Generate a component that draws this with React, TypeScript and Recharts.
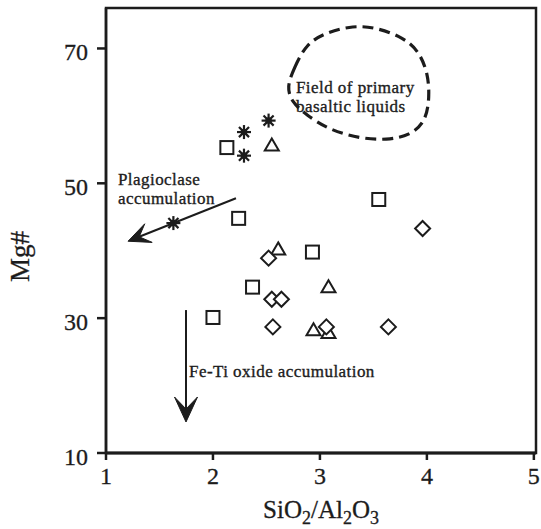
import React from 'react';
import {
  ComposedChart,
  Scatter,
  Line,
  XAxis,
  YAxis,
  ReferenceArea,
  ReferenceLine,
  ReferenceDot,
} from 'recharts';

// ---------- data ----------
const xTicks = [1, 2, 3, 4, 5];
const yTicks = [10, 30, 50, 70];

const asterisks = [
  { x: 1.63, y: 44.1 },
  { x: 2.29, y: 57.6 },
  { x: 2.29, y: 54.1 },
  { x: 2.52, y: 59.3 },
];

const squares = [
  { x: 2.13, y: 55.3 },
  { x: 2.24, y: 44.8 },
  { x: 2.37, y: 34.6 },
  { x: 2.0, y: 30.1 },
  { x: 3.55, y: 47.6 },
  { x: 2.93, y: 39.8 },
];

const triangles = [
  { x: 2.55, y: 55.6 },
  { x: 2.61, y: 40.2 },
  { x: 3.08, y: 34.6 },
  { x: 2.94, y: 28.2 },
  { x: 3.08, y: 27.8 },
];

const diamonds = [
  { x: 3.96, y: 43.3 },
  { x: 2.52, y: 38.9 },
  { x: 2.55, y: 32.8 },
  { x: 2.64, y: 32.8 },
  { x: 2.56, y: 28.7 },
  { x: 3.06, y: 28.7 },
  { x: 3.64, y: 28.7 },
];

// outline of the "Field of primary basaltic liquids"
const primaryField = [
  { x: 2.69, y: 64.27 },
  { x: 2.756, y: 67.0 },
  { x: 2.87, y: 70.7 },
  { x: 3.063, y: 72.4 },
  { x: 3.311, y: 73.4 },
  { x: 3.53, y: 73.1 },
  { x: 3.785, y: 71.6 },
  { x: 3.93, y: 69.5 },
  { x: 4.01, y: 66.25 },
  { x: 4.025, y: 62.79 },
  { x: 3.99, y: 59.2 },
  { x: 3.845, y: 57.1 },
  { x: 3.623, y: 56.4 },
  { x: 3.374, y: 56.65 },
  { x: 3.09, y: 57.9 },
  { x: 2.866, y: 60.2 },
  { x: 2.735, y: 62.11 },
];

const plagioArrow = [
  { x: 2.215, y: 47.78 },
  { x: 1.206, y: 41.41 },
];
const feTiArrow = [
  { x: 1.748, y: 31.2 },
  { x: 1.748, y: 14.6 },
];

const plagioLabel = { x: 1.112, y: 49.7, lines: ['Plagioclase', 'accumulation'] };
const fieldLabel = { x: 2.776, y: 63.35, lines: ['Field of primary', 'basaltic liquids'] };
const feTiLabel = { x: 1.776, y: 21.26, lines: ['Fe-Ti oxide accumulation'] };

// ---------- styles ----------
const INK = '#1c1c1c';
const FONT = '"Liberation Serif", "Times New Roman", serif';

// ---------- shapes ----------
const SquareShape = (p: any) => (
  <rect x={p.cx - 6.5} y={p.cy - 6.5} width={13} height={13} fill="#fff" stroke={INK} strokeWidth={2} />
);
const TriangleShape = (p: any) => (
  <path
    d={`M${p.cx},${p.cy - 7} L${p.cx + 7},${p.cy + 5} L${p.cx - 7},${p.cy + 5} Z`}
    fill="#fff"
    stroke={INK}
    strokeWidth={2}
    strokeLinejoin="miter"
  />
);
const DiamondShape = (p: any) => (
  <path
    d={`M${p.cx},${p.cy - 7.5} L${p.cx + 7.5},${p.cy} L${p.cx},${p.cy + 7.5} L${p.cx - 7.5},${p.cy} Z`}
    fill="#fff"
    stroke={INK}
    strokeWidth={2}
  />
);
const AsteriskShape = (p: any) => {
  const r = 7;
  const d = r * 0.72;
  const { cx, cy } = p;
  return (
    <g stroke={INK} strokeWidth={2.2} strokeLinecap="butt">
      <line x1={cx} y1={cy - r} x2={cx} y2={cy + r} />
      <line x1={cx - r} y1={cy} x2={cx + r} y2={cy} />
      <line x1={cx - d} y1={cy - d} x2={cx + d} y2={cy + d} />
      <line x1={cx - d} y1={cy + d} x2={cx + d} y2={cy - d} />
      <circle cx={cx} cy={cy} r={2.2} fill={INK} />
    </g>
  );
};

const makeArrow = (L: number, W: number, N: number) => (p: any) => {
  const { x1, y1, x2, y2 } = p;
  const dx = x2 - x1;
  const dy = y2 - y1;
  const len = Math.sqrt(dx * dx + dy * dy) || 1;
  const ux = dx / len;
  const uy = dy / len;
  const nx = -uy;
  const ny = ux;
  const bx = x2 - L * ux;
  const by = y2 - L * uy;
  const kx = x2 - N * ux;
  const ky = y2 - N * uy;
  return (
    <g>
      <line x1={x1} y1={y1} x2={kx} y2={ky} stroke={INK} strokeWidth={2} />
      <path
        d={`M${x2},${y2} L${bx + W * nx},${by + W * ny} L${kx},${ky} L${bx - W * nx},${by - W * ny} Z`}
        fill={INK}
        stroke={INK}
        strokeWidth={1}
        strokeLinejoin="miter"
      />
    </g>
  );
};
const PlagioArrow = makeArrow(22, 10, 12);
const FeTiArrow = makeArrow(25, 11.5, 13);

const multiLine = (lines: string[]) => (props: any) => {
  const vb = props.viewBox || {};
  const x = vb.x ?? 0;
  const y = vb.y ?? 0;
  return (
    <text
      x={x}
      y={y}
      fill={INK}
      stroke={INK}
      strokeWidth={0.35}
      fontFamily={FONT}
      fontSize={17}
      letterSpacing={0.45}
    >
      {lines.map((t, i) => (
        <tspan key={i} x={x} dy={i === 0 ? 0 : 18.9}>
          {t}
        </tspan>
      ))}
    </text>
  );
};

const XTick = (p: any) => (
  <text x={p.x} y={p.y + 22} textAnchor="middle" fill={INK} stroke={INK} strokeWidth={0.3} fontFamily={FONT} fontSize={24}>
    {p.payload.value}
  </text>
);
const YTick = (p: any) => (
  <text x={p.x} y={p.y + 12} textAnchor="end" fill={INK} stroke={INK} strokeWidth={0.3} fontFamily={FONT} fontSize={24}>
    {p.payload.value}
  </text>
);

const XTitle = (props: any) => {
  const vb = props.viewBox;
  const cx = vb.x + vb.width / 2;
  const y = vb.y + 65;
  return (
    <text x={cx} y={y} textAnchor="middle" fill={INK} stroke={INK} strokeWidth={0.3} fontFamily={FONT} fontSize={25}>
      <tspan>SiO</tspan>
      <tspan fontSize={18} dy={6}>2</tspan>
      <tspan dy={-6}>/Al</tspan>
      <tspan fontSize={18} dy={6}>2</tspan>
      <tspan dy={-6}>O</tspan>
      <tspan fontSize={18} dy={6}>3</tspan>
    </text>
  );
};

const YTitle = (props: any) => {
  const vb = props.viewBox;
  const x = vb.x + 12.5;
  const y = vb.y + 248.5;
  return (
    <text
      x={x}
      y={y}
      textAnchor="middle"
      fill={INK}
      stroke={INK}
      strokeWidth={0.3}
      fontFamily={FONT}
      fontSize={27}
      transform={`rotate(-90, ${x}, ${y})`}
    >
      Mg#
    </text>
  );
};

export default function App() {
  return (
    <div style={{ position: 'absolute', left: 0, top: 0, background: '#fff' }}>
      <ComposedChart width={541} height={529} margin={{ top: 8, right: 5, bottom: 36, left: 16 }}>
        <XAxis
          type="number"
          dataKey="x"
          domain={[1, 5.02]}
          ticks={xTicks}
          allowDataOverflow
          height={40}
          axisLine={{ stroke: INK, strokeWidth: 3 }}
          tickLine={{ stroke: INK, strokeWidth: 2.5 }}
          tickSize={7}
          tickMargin={2}
          tick={XTick}
          label={XTitle}
          interval={0}
        />
        <YAxis
          type="number"
          dataKey="y"
          domain={[10, 76]}
          ticks={yTicks}
          allowDataOverflow
          width={90}
          axisLine={{ stroke: INK, strokeWidth: 2.5 }}
          tickLine={{ stroke: INK, strokeWidth: 2.5 }}
          tickSize={9}
          tickMargin={9}
          tick={YTick}
          label={YTitle}
          interval={0}
        />
        <ReferenceArea
          x1={1}
          x2={5.02}
          y1={10}
          y2={76}
          fill="none"
          fillOpacity={0}
          stroke={INK}
          strokeWidth={2.5}
          ifOverflow="visible"
        />
        <Line
          data={primaryField}
          dataKey="y"
          type="basisClosed"
          stroke={INK}
          strokeWidth={3.2}
          strokeDasharray="11 6"
          dot={false}
          activeDot={false}
          isAnimationActive={false}
          legendType="none"
        />
        <ReferenceLine
          segment={plagioArrow}
          stroke={INK}
          shape={PlagioArrow}
          ifOverflow="visible"
        />
        <ReferenceLine
          segment={feTiArrow}
          stroke={INK}
          shape={FeTiArrow}
          ifOverflow="visible"
        />
        <Scatter data={squares} shape={SquareShape} isAnimationActive={false} />
        <Scatter data={triangles} shape={TriangleShape} isAnimationActive={false} />
        <Scatter data={diamonds} shape={DiamondShape} isAnimationActive={false} />
        <Scatter data={asterisks} shape={AsteriskShape} isAnimationActive={false} />
        <ReferenceDot x={plagioLabel.x} y={plagioLabel.y} r={0} fill="none" stroke="none" ifOverflow="visible" label={multiLine(plagioLabel.lines)} />
        <ReferenceDot x={fieldLabel.x} y={fieldLabel.y} r={0} fill="none" stroke="none" ifOverflow="visible" label={multiLine(fieldLabel.lines)} />
        <ReferenceDot x={feTiLabel.x} y={feTiLabel.y} r={0} fill="none" stroke="none" ifOverflow="visible" label={multiLine(feTiLabel.lines)} />
      </ComposedChart>
    </div>
  );
}
